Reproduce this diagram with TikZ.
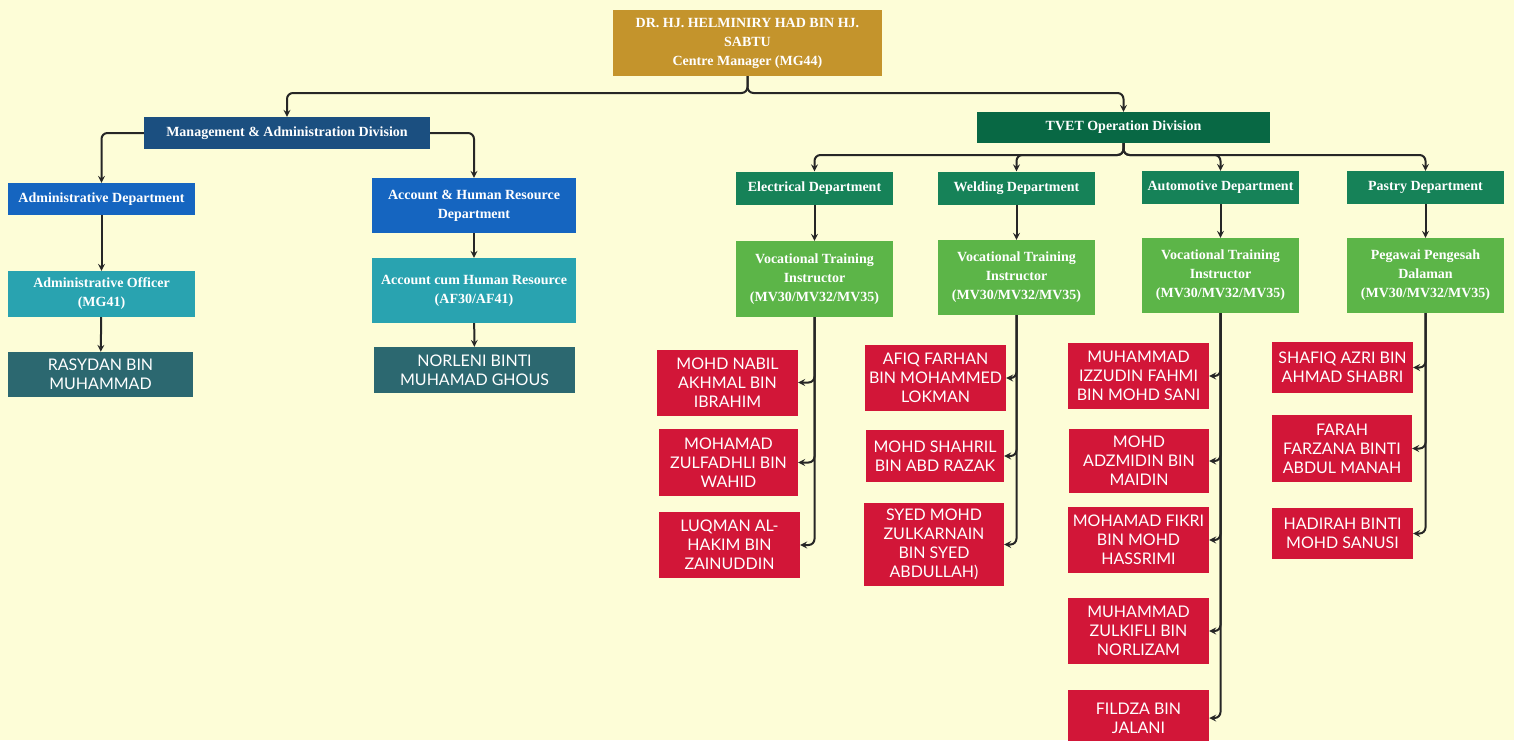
\documentclass[tikz,border=0pt]{standalone}
\usepackage{fontspec}
\setmainfont{Liberation Serif}
\newfontfamily\namefont{Lato}
\usetikzlibrary{arrows,positioning}
\definecolor{bgcream}{RGB}{253,253,215}
\definecolor{ceogold}{RGB}{196,148,44}
\definecolor{mgmtblue}{RGB}{27,79,128}
\definecolor{deptblue}{RGB}{21,101,192}
\definecolor{postteal}{RGB}{41,163,176}
\definecolor{staffteal}{RGB}{44,104,112}
\definecolor{tvetgreen}{RGB}{8,104,68}
\definecolor{deptgreen}{RGB}{22,130,88}
\definecolor{instgreen}{RGB}{92,181,72}
\definecolor{staffred}{RGB}{210,22,56}
\tikzset{
  box/.style={inner sep=1pt, align=center, text=white,
    font=\bfseries\fontsize{14}{19}\selectfont},
  staff/.style={box, font=\namefont\fontsize{16}{19}\selectfont},
  conn/.style={->, >=stealth, line width=2pt, draw=black!85, rounded corners=6pt}
}
\begin{document}
\begin{tikzpicture}[x=1pt,y=-1pt]
      \fill[bgcream] (0,0) rectangle (1514,740);
      \useasboundingbox (0,0) rectangle (1514,740);
      % top
      \node[box, fill=ceogold, minimum width=269pt, minimum height=66pt] (ceo) at (747.5,43)
        {DR. HJ. HELMINIRY HAD BIN HJ.\\SABTU\\Centre Manager (MG44)};
      \node[box, fill=mgmtblue, minimum width=286pt, minimum height=32pt] (mgmt) at (287,133)
        {Management \& Administration Division};
      \node[box, fill=tvetgreen, minimum width=293pt, minimum height=31pt] (tvet) at (1123.5,127.5)
        {TVET Operation Division};
      \coordinate (busA) at (747.5,93);
      \draw[conn] (ceo.south) -- (busA) -| (mgmt.north);
      \draw[conn] (ceo.south) -- (busA) -| (tvet.north);
      % management side
      \node[box, fill=deptblue, minimum width=187pt, minimum height=32pt] (adm) at (101.5,199)
        {Administrative Department};
      \node[box, fill=deptblue, minimum width=204pt, minimum height=55pt] (accd) at (474,205.5)
        {Account \& Human Resource\\Department};
      \node[box, fill=postteal, minimum width=187pt, minimum height=46pt] (aof) at (101.5,294)
        {Administrative Officer\\(MG41)};
      \node[box, fill=postteal, minimum width=204pt, minimum height=65pt] (acco) at (474,290.5)
        {Account cum Human Resource\\(AF30/AF41)};
      \node[staff, fill=staffteal, minimum width=185pt, minimum height=45pt] (ras) at (100.5,374.5)
        {RASYDAN BIN\\MUHAMMAD};
      \node[staff, fill=staffteal, minimum width=201pt, minimum height=46pt] (nor) at (474.5,370)
        {NORLENI BINTI\\MUHAMAD GHOUS};
      \draw[conn] (mgmt.west) -| (adm.north);
      \draw[conn] (mgmt.east) -| (accd.north);
      \draw[conn] (adm) -- (aof);
      \draw[conn] (aof) -- (ras);
      \draw[conn] (accd) -- (acco);
      \draw[conn] (acco) -- (nor);
      % tvet departments
      \node[box, fill=deptgreen, minimum width=157pt, minimum height=33pt] (elec) at (814.5,188) {Electrical Department};
      \node[box, fill=deptgreen, minimum width=157pt, minimum height=33pt] (weld) at (1016.5,188) {Welding Department};
      \node[box, fill=deptgreen, minimum width=157pt, minimum height=33pt] (auto) at (1220.5,187.5) {Automotive Department};
      \node[box, fill=deptgreen, minimum width=157pt, minimum height=33pt] (pastry) at (1425.5,187.5) {Pastry Department};
      \coordinate (busB) at (1123.5,155);
      \draw[conn] (tvet.south) -- (busB) -| (elec.north);
      \draw[conn] (tvet.south) -- (busB) -| (weld.north);
      \draw[conn] (tvet.south) -- (busB) -| (auto.north);
      \draw[conn] (tvet.south) -- (busB) -| (pastry.north);
      \node[box, fill=instgreen, minimum width=157pt, minimum height=76pt] (ei) at (814.5,279)
        {Vocational Training\\Instructor\\(MV30/MV32/MV35)};
      \node[box, fill=instgreen, minimum width=157pt, minimum height=75pt] (wi) at (1016.5,277.5)
        {Vocational Training\\Instructor\\(MV30/MV32/MV35)};
      \node[box, fill=instgreen, minimum width=157pt, minimum height=75pt] (ai) at (1220.5,275.5)
        {Vocational Training\\Instructor\\(MV30/MV32/MV35)};
      \node[box, fill=instgreen, minimum width=157pt, minimum height=75pt] (pi) at (1425.5,275.5)
        {Pegawai Pengesah\\Dalaman\\(MV30/MV32/MV35)};
      \draw[conn] (elec) -- (ei);
      \draw[conn] (weld) -- (wi);
      \draw[conn] (auto) -- (ai);
      \draw[conn] (pastry) -- (pi);
      % electrical staff
      \node[staff, fill=staffred, minimum width=141pt, minimum height=66pt] (en1) at (727.5,382.5)
        {MOHD NABIL\\AKHMAL BIN\\IBRAHIM};
      \node[staff, fill=staffred, minimum width=139pt, minimum height=67pt] (en2) at (728.5,462.5)
        {MOHAMAD\\ZULFADHLI BIN\\WAHID};
      \node[staff, fill=staffred, minimum width=141pt, minimum height=66pt] (en3) at (729.5,545)
        {LUQMAN AL-\\HAKIM BIN\\ZAINUDDIN};
      \draw[conn] (ei.south) |- (en1.east);
      \draw[conn] (ei.south) |- (en2.east);
      \draw[conn] (ei.south) |- (en3.east);
      % welding staff
      \node[staff, fill=staffred, minimum width=141pt, minimum height=66pt] (wn1) at (935.5,378)
        {AFIQ FARHAN\\BIN MOHAMMED\\LOKMAN};
      \node[staff, fill=staffred, minimum width=138pt, minimum height=52pt] (wn2) at (935,456)
        {MOHD SHAHRIL\\BIN ABD RAZAK};
      \node[staff, fill=staffred, minimum width=140pt, minimum height=83pt] (wn3) at (934,544.5)
        {SYED MOHD\\ZULKARNAIN\\BIN SYED\\ABDULLAH)};
      \draw[conn] (wi.south) |- (wn1.east);
      \draw[conn] (wi.south) |- (wn2.east);
      \draw[conn] (wi.south) |- (wn3.east);
      % automotive staff
      \node[staff, fill=staffred, minimum width=141pt, minimum height=66pt] (an1) at (1138.5,376)
        {MUHAMMAD\\IZZUDIN FAHMI\\BIN MOHD SANI};
      \node[staff, fill=staffred, minimum width=140pt, minimum height=64pt] (an2) at (1139,461)
        {MOHD\\ADZMIDIN BIN\\MAIDIN};
      \node[staff, fill=staffred, minimum width=141pt, minimum height=66pt] (an3) at (1138.5,540)
        {MOHAMAD FIKRI\\BIN MOHD\\HASSRIMI};
      \node[staff, fill=staffred, minimum width=141pt, minimum height=66pt] (an4) at (1138.5,631)
        {MUHAMMAD\\ZULKIFLI BIN\\NORLIZAM};
      \node[staff, fill=staffred, minimum width=141pt, minimum height=56pt] (an5) at (1138.5,718)
        {FILDZA BIN\\JALANI};
      \draw[conn] (ai.south) |- (an1.east);
      \draw[conn] (ai.south) |- (an2.east);
      \draw[conn] (ai.south) |- (an3.east);
      \draw[conn] (ai.south) |- (an4.east);
      \draw[conn] (ai.south) |- (an5.east);
      % pastry staff
      \node[staff, fill=staffred, minimum width=141pt, minimum height=51pt] (pn1) at (1342.5,367.5)
        {SHAFIQ AZRI BIN\\AHMAD SHABRI};
      \node[staff, fill=staffred, minimum width=140pt, minimum height=67pt] (pn2) at (1342,448.5)
        {FARAH\\FARZANA BINTI\\ABDUL MANAH};
      \node[staff, fill=staffred, minimum width=141pt, minimum height=51pt] (pn3) at (1342.5,533.5)
        {HADIRAH BINTI\\MOHD SANUSI};
      \draw[conn] (pi.south) |- (pn1.east);
      \draw[conn] (pi.south) |- (pn2.east);
      \draw[conn] (pi.south) |- (pn3.east);
\end{tikzpicture}
\end{document}
